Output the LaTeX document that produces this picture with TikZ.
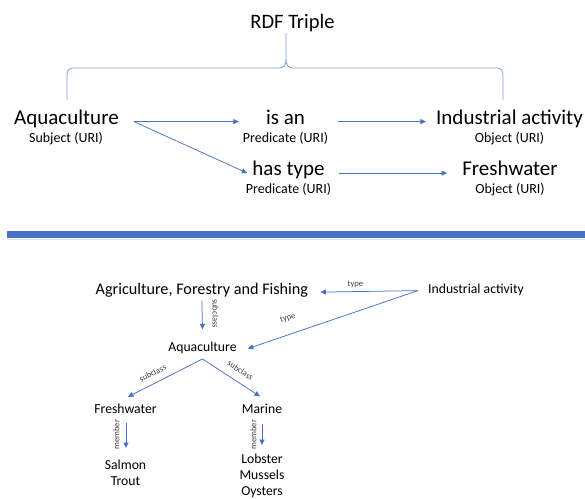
\documentclass[tikz,border=0pt]{standalone}
\usepackage{fontspec}
\setmainfont{Carlito}
\usetikzlibrary{arrows.meta}
\definecolor{ablue}{HTML}{4472C4}
\definecolor{bracec}{HTML}{7F9FD8}
\definecolor{barlight}{HTML}{DCE4F2}
\definecolor{lblc}{HTML}{404040}
\begin{document}
\begin{tikzpicture}[x=1pt,y=-1pt,
  arr/.style={draw=ablue, line width=0.75pt, -{Triangle[length=5.5pt,width=5pt]}},
  bracestyle/.style={draw=bracec, line width=0.8pt},
  titletext/.style={font=\fontsize{20.5}{24}\selectfont, inner sep=0pt, anchor=base},
  bigtext/.style={font=\fontsize{21}{25}\selectfont, inner sep=0pt, anchor=base},
  subtext/.style={font=\fontsize{14}{16}\selectfont, inner sep=0pt, anchor=base},
  agritext/.style={font=\fontsize{16.2}{19}\selectfont, inner sep=0pt, anchor=base},
  medtext/.style={font=\fontsize{13.7}{16}\selectfont, inner sep=0pt, anchor=base},
  multitext/.style={font=\fontsize{13.7}{16}\selectfont, inner sep=0pt, anchor=north, align=center},
  lbl/.style={font=\fontsize{8.6}{10}\selectfont, inner sep=0pt, text=lblc}]
\useasboundingbox (0,0) rectangle (585,498);

% ---------- top: RDF triple ----------
\node[titletext] (rdf) at (292.5,28) {RDF Triple};
\draw[bracestyle] (67,100) -- (67,77) .. controls (67,70) and (68,68) .. (75,68)
  -- (277,68) .. controls (284,68) and (286,66) .. (286,59) -- (286,33);
\draw[bracestyle] (286,59) .. controls (286,66) and (288,68) .. (295,68)
  -- (495,68) .. controls (502,68) and (503,70) .. (503,77) -- (503,100);

\node[bigtext] (aq) at (66.5,124) {Aquaculture};
\node[subtext] (aqs) at (66,142) {Subject (URI)};
\node[bigtext] (isan) at (285.5,124) {is an};
\node[subtext] (isans) at (285.5,142) {Predicate (URI)};
\node[bigtext] (ind) at (509.5,124) {Industrial activity};
\node[subtext] (inds) at (509.5,142) {Object (URI)};
\node[bigtext] (ht) at (288.5,175.5) {has type};
\node[subtext] (hts) at (288.5,193.5) {Predicate (URI)};
\node[bigtext] (fw) at (510,175.5) {Freshwater};
\node[subtext] (fws) at (510,193.5) {Object (URI)};

\coordinate (aqout) at ([xshift=15pt]aq.mid east);
\draw[arr] (aqout) -- ([xshift=-27pt]isan.mid west);
\draw[arr] (aqout) -- ([xshift=-5pt]ht.mid west);
\draw[arr] ([xshift=33pt]isan.mid east) -- ([xshift=-10pt]ind.mid west);
\draw[arr] ([xshift=14pt]ht.mid east) -- ([xshift=-15pt]fw.mid west);

% ---------- separator ----------
\fill[ablue] (7,231) rectangle (585,238);
\draw[barlight, line width=1.2pt] (7,239.2) -- (585,239.2);

% ---------- bottom: graph ----------
\node[agritext] (agri) at (201.9,294.5) {Agriculture, Forestry and Fishing};
\node[medtext] (ind2) at (476,293) {Industrial activity};
\node[medtext] (aq2) at (202.5,351) {Aquaculture};
\node[medtext] (fw2) at (125.5,413) {Freshwater};
\node[medtext] (mar) at (262,413) {Marine};
\node[multitext] (fish) at (125.5,459.5) {Salmon\\Trout};
\node[multitext] (shell) at (262,453.5) {Lobster\\Mussels\\Oysters};

\draw[arr] ([xshift=-10pt]ind2.mid west) -- ([xshift=12pt]agri.mid east)
  node[lbl, pos=0.64, shift={(0,-7)}] {type};
\draw[arr] ([xshift=-10pt]ind2.mid west) -- ([xshift=11pt]aq2.mid east)
  node[lbl, pos=0.765, shift={(0,-16.5)}, rotate=18.8] {type};
\draw[arr] ([yshift=-3.3pt]agri.south) -- ([yshift=12pt]aq2.north)
  node[lbl, pos=0.5, shift={(13.4,-1.5)}, rotate=-90] {subclass};

\coordinate (apex) at ([yshift=-8pt]aq2.base);
\draw[arr] (apex) -- ([shift={(2.5,-6.5)}]fw2.north)
  node[lbl, pos=0.67, shift={(0,-11.2)}, rotate=26.9] {subclass};
\draw[arr] (apex) -- ([shift={(-2,-7)}]mar.north)
  node[lbl, pos=0.66, shift={(0,-13.4)}, rotate=-33.7] {subclass};

\draw[arr] ([shift={(0.5,10)}]fw2.south) -- ([shift={(0.5,-11.5)}]fish.north)
  node[lbl, pos=0.5, shift={(-9.5,-1)}, rotate=90] {member};
\draw[arr] ([yshift=-11pt]mar.south) -- ([yshift=8.5pt]shell.north)
  node[lbl, pos=0.5, shift={(-8.7,0)}, rotate=90] {member};
\end{tikzpicture}
\end{document}
